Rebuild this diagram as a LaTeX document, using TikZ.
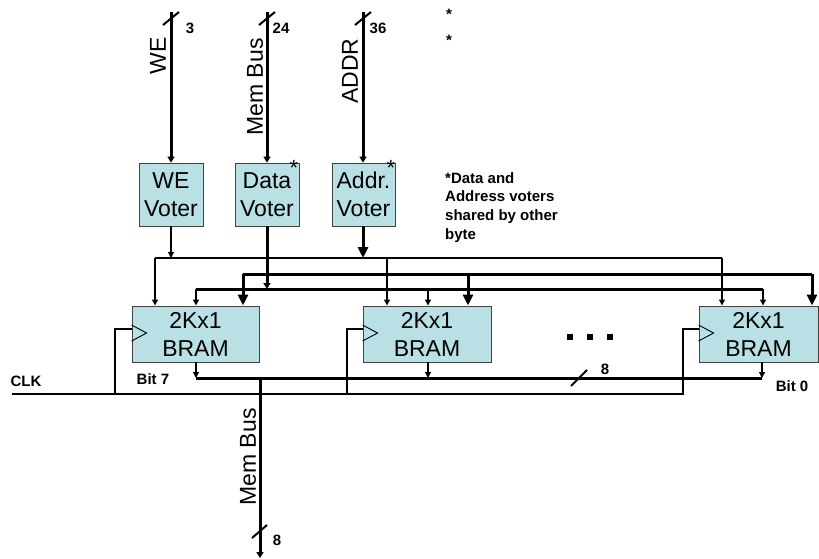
\documentclass[tikz,border=0pt]{standalone}
\usepackage{fontspec}
\setmainfont{Liberation Sans}
\usetikzlibrary{positioning,arrows.meta,calc}
\definecolor{bramfill}{RGB}{185,224,228}

\begin{document}
\begin{tikzpicture}[x=1pt, y=-1pt,
    box/.style={rectangle, draw=black!75, line width=0.8pt, fill=bramfill, align=center, inner sep=0pt, font=\fontsize{23}{28}\selectfont},
    voter/.style={box, minimum width=64pt, minimum height=63pt},
    bram/.style={box, minimum width=127pt, minimum height=56pt},
    lbl/.style={font=\bfseries\fontsize{15}{16}\selectfont, inner sep=0pt},
    vlbl/.style={rotate=90, font=\fontsize{23}{26}\selectfont, inner sep=0pt},
    star/.style={font=\fontsize{22}{22}\selectfont, inner sep=0pt},
    thin/.style={line width=1.3pt},
    bus/.style={line width=3pt},
    arrow/.style={thin, -{Triangle[length=6pt,width=6pt]}},
    busarrow/.style={bus, -{Triangle[length=6pt,width=7pt]}},
    bigarrow/.style={bus, -{Triangle[length=11pt,width=10pt]}},
    slash/.style={line width=2pt}
]
    \useasboundingbox (0,0) rectangle (819,559);

    % voters
    \node[voter] (wev) at (171,194.5) {WE\\Voter};
    \node[voter] (datav) at (267,194.5) {Data\\Voter};
    \node[voter, minimum width=63pt] (addrv) at (363.5,194.5) {Addr.\\Voter};
    \node[star] (ast1) at (294,168) {*};
    \node[star] (ast2) at (391,168) {*};

    % BRAMs
    \node[bram] (bram1) at (195.5,334) {2Kx1\\BRAM};
    \node[bram, minimum width=128pt] (bram2) at (427,334) {2Kx1\\BRAM};
    \node[bram, minimum width=119pt] (bram3) at (758.5,334) {2Kx1\\BRAM};
    \foreach \b in {bram1,bram2,bram3}
        \draw[line width=0.9pt] ($(\b.west)+(0,-9)$) -- ($(\b.west)+(15,-1)$) -- ($(\b.west)+(0,7)$);

    % inputs
    \coordinate (inwe) at (171,12);
    \coordinate (indata) at (267,12);
    \coordinate (inaddr) at (363,12);
    \draw[busarrow] (inwe) -- (wev);
    \draw[busarrow] (indata) -- (datav);
    \draw[busarrow] (inaddr) -- (addrv.north -| inaddr);
    \foreach \c in {inwe,indata,inaddr}
        \draw[slash] ($(\c)+(-8,13)$) -- ($(\c)+(8,0)$);
    \node[lbl] (nwe) at (190,28) {3};
    \node[lbl] (ndata) at (281,28) {24};
    \node[lbl] (naddr) at (378,28) {36};
    \node[vlbl] (twe) at (158,56) {WE};
    \node[vlbl] (tdata) at (255,87) {Mem Bus};
    \node[vlbl] (taddr) at (350,71) {ADDR};

    % note
    \node[lbl] (astt1) at (449,14) {*};
    \node[lbl] (astt2) at (449,40) {*};
    \node[lbl, anchor=north west, align=left, font=\bfseries\fontsize{15}{18.8}\selectfont] (note) at (445,172)
        {*Data and\\Address voters\\shared by other\\byte};

    % distribution buses
    \coordinate (we1) at (155,258);
    \coordinate (we3) at (722,258);
    \coordinate (addr1) at (243,274);
    \coordinate (addr3) at (812,274);
    \coordinate (data1) at (196,289);
    \coordinate (data3) at (763,289);
    \draw[arrow] (wev) -- (wev.south |- we1);
    \draw[busarrow] (datav) -- (datav.south |- data1);
    \draw[bigarrow] (addrv.south -| inaddr) -- (inaddr |- we1);
    \draw[thin] (we1) -- (we3);
    \draw[bus] (addr1) -- (addr3);
    \draw[bus] (data1) -- (data3);
    \foreach \b/\w/\d/\a in {bram1/155/196/243, bram2/387/428/468, bram3/722/763/812} {
        \draw[arrow] (\w,258) -- (\w,305.5);
        \draw[arrow] (\d,289) -- (\d,305.5);
        \draw[bigarrow] (\a,274) -- (\a,305.5);
    }

    % outputs
    \coordinate (out1) at (196,378);
    \coordinate (out3) at (762,378);
    \coordinate (outbus) at (260,378);
    \coordinate (memout) at (260,558);
    \draw[arrow] (bram1.south -| out1) -- (out1);
    \draw[arrow] (bram2.south -| 428,0) -- (428,378);
    \draw[arrow] (bram3.south -| out3) -- (out3);
    \draw[bus] (out1) -- (out3);
    \draw[busarrow] (outbus) -- (memout);
    \draw[slash] (571,386) -- (587,370);
    \node[lbl] (nout) at (605,369) {8};
    \draw[slash] (252,538) -- (267,525);
    \node[lbl] (nmem) at (277,540) {8};
    \node[vlbl] (tmem) at (248,457) {Mem Bus};
    \node[lbl] (bit7) at (153,379) {Bit 7};
    \node[lbl] (bit0) at (792,386) {Bit 0};

    % clock
    \coordinate (clkin) at (12,394);
    \coordinate (clkend) at (683,394);
    \node[lbl] (clk) at (26,381) {CLK};
    \draw[thin] (clkin) -- (clkend) |- ($(bram3.west)+(0,-5)$);
    \draw[thin] (115,394) |- ($(bram1.west)+(0,-5)$);
    \draw[thin] (347,394) |- ($(bram2.west)+(0,-5)$);

    % dots
    \foreach \x in {570,590,610}
        \fill (\x-3,334) rectangle (\x+3,340);
\end{tikzpicture}
\end{document}
